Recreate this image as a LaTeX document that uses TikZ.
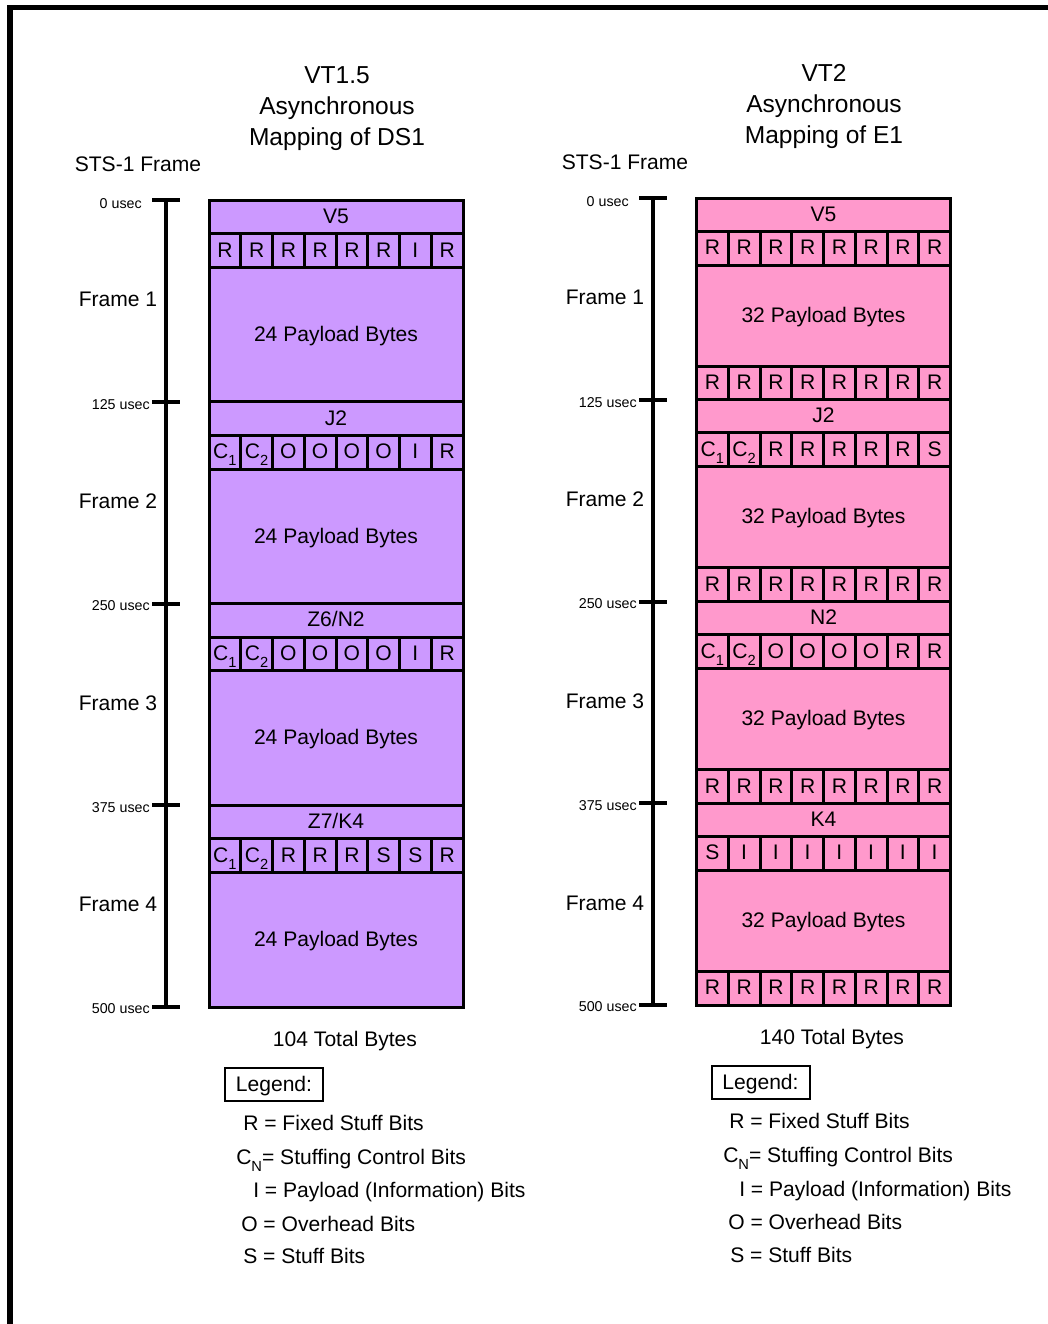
\documentclass[tikz,border=0pt]{standalone}
\usepackage{fontspec}
\setmainfont{Liberation Sans}
\definecolor{vtpurple}{RGB}{204,153,255}
\definecolor{vtpink}{RGB}{255,153,204}
\newcommand{\sbs}[1]{\raisebox{-0.33em}{\fontsize{11}{12}\selectfont #1}}
\tikzset{
  capc/.style={inner sep=0pt, text height=1em, text depth=0pt},
  titletxt/.style={capc, font=\fontsize{18.4}{20}\selectfont},
  normtxt/.style={capc, font=\fontsize{15.8}{18}\selectfont},
  legtxt/.style={capc, font=\fontsize{15.8}{18}\selectfont, anchor=west},
  smalltxt/.style={capc, font=\fontsize{10.7}{12}\selectfont, anchor=east},
  cellline/.style={draw=black, line width=2.25pt},
  hdrcell/.style={normtxt, cellline, minimum width=190.5pt},
  bitcell/.style={normtxt, cellline, minimum width=23.8125pt, minimum height=25.5pt},
  axisline/.style={line width=3pt},
  legbox/.style={draw=black, line width=1.5pt, normtxt, minimum width=73.5pt, minimum height=24.75pt}
}
% #1 name, #2 x0 (left edge), #3 y centre, #4 colour, #5 list
\newcommand{\bitrow}[5]{%
  \foreach \b [count=\i] in {#5} {
    \node[bitcell, fill=#4] (#1-\i) at ({#2+(\i-0.5)*31.75},{#3}) {\b};
  }%
}
\begin{document}
\begin{tikzpicture}[x=0.75pt,y=-0.75pt]
\useasboundingbox (0,0) rectangle (1048,1324);
\fill[white] (0,0) rectangle (1048,1324);
\draw[line width=4.1pt] (10,1330) -- (10,7.5) -- (1055,7.5);

% ---------------- LEFT : VT1.5 ----------------
\node[titletxt] (lt1) at (337,77) {VT1.5};
\node[titletxt] (lt2) at (337,108) {Asynchronous};
\node[titletxt] (lt3) at (337,139) {Mapping of DS1};
\node[normtxt] (lsts) at (138,165) {STS-1 Frame};

% frame 1
\node[hdrcell, fill=vtpurple, minimum height=25.125pt] (lh1) at (336,216.75) {V5};
\bitrow{lb1}{209}{250.5}{vtpurple}{R,R,R,R,R,R,I,R}
\node[hdrcell, fill=vtpurple, minimum height=100.7pt] (lp1) at (336,334.6) {24 Payload Bytes};
% frame 2
\node[hdrcell, fill=vtpurple, minimum height=25.125pt] (lh2) at (336,418.5) {J2};
\bitrow{lb2}{209}{452.25}{vtpurple}{{C\sbs{1}},{C\sbs{2}},O,O,O,O,I,R}
\node[hdrcell, fill=vtpurple, minimum height=100.7pt] (lp2) at (336,536.4) {24 Payload Bytes};
% frame 3
\node[hdrcell, fill=vtpurple, minimum height=25.125pt] (lh3) at (336,620.25) {Z6/N2};
\bitrow{lb3}{209}{654}{vtpurple}{{C\sbs{1}},{C\sbs{2}},O,O,O,O,I,R}
\node[hdrcell, fill=vtpurple, minimum height=100.7pt] (lp3) at (336,738.1) {24 Payload Bytes};
% frame 4
\node[hdrcell, fill=vtpurple, minimum height=25.125pt] (lh4) at (336,822) {Z7/K4};
\bitrow{lb4}{209}{855.75}{vtpurple}{{C\sbs{1}},{C\sbs{2}},R,R,R,S,S,R}
\node[hdrcell, fill=vtpurple, minimum height=100.7pt] (lp4) at (336,939.9) {24 Payload Bytes};

% time axis
\coordinate (la0) at (166,200);
\coordinate (la4) at (166,1007);
\draw[axisline] (la0) -- (la4);
\foreach \k/\t in {0/200,1/401.75,2/603.5,3/805.25,4/1007} {
  \draw[axisline] (152,\t) -- (180,\t);
}
\node[smalltxt] (lu0) at (142,202) {0 usec};
\node[smalltxt] (lu1) at (150,402.5) {125 usec};
\node[smalltxt] (lu2) at (150,604) {250 usec};
\node[smalltxt] (lu3) at (150,805.5) {375 usec};
\node[smalltxt] (lu4) at (150,1007) {500 usec};
\node[normtxt] (lf1) at (118,300) {Frame 1};
\node[normtxt] (lf2) at (118,502) {Frame 2};
\node[normtxt] (lf3) at (118,704) {Frame 3};
\node[normtxt] (lf4) at (118,905) {Frame 4};

\node[normtxt] (ltot) at (345,1040) {104 Total Bytes};
\node[legbox] (lleg) at (274,1084.5) {Legend:};
\node[legtxt] (ll1) at (243,1124) {R = Fixed Stuff Bits};
\node[legtxt] (ll2) at (236,1158) {C\sbs{N}= Stuffing Control Bits};
\node[legtxt] (ll3) at (253,1191) {I = Payload (Information) Bits};
\node[legtxt] (ll4) at (241,1225) {O = Overhead Bits};
\node[legtxt] (ll5) at (243,1257) {S = Stuff Bits};

% ---------------- RIGHT : VT2 ----------------
\node[titletxt] (rt1) at (824,75) {VT2};
\node[titletxt] (rt2) at (824,106) {Asynchronous};
\node[titletxt] (rt3) at (824,137) {Mapping of E1};
\node[normtxt] (rsts) at (625,163) {STS-1 Frame};

% frame 1
\node[hdrcell, fill=vtpink, minimum height=24.75pt] (rh1) at (823.5,214.5) {V5};
\bitrow{rb1}{696.5}{248}{vtpink}{R,R,R,R,R,R,R,R}
\node[hdrcell, fill=vtpink, minimum height=75.75pt] (rp1) at (823.5,315.5) {32 Payload Bytes};
\bitrow{rc1}{696.5}{383}{vtpink}{R,R,R,R,R,R,R,R}
% frame 2
\node[hdrcell, fill=vtpink, minimum height=24.75pt] (rh2) at (823.5,416.25) {J2};
\bitrow{rb2}{696.5}{449.75}{vtpink}{{C\sbs{1}},{C\sbs{2}},R,R,R,R,R,S}
\node[hdrcell, fill=vtpink, minimum height=75.75pt] (rp2) at (823.5,517.25) {32 Payload Bytes};
\bitrow{rc2}{696.5}{584.75}{vtpink}{R,R,R,R,R,R,R,R}
% frame 3
\node[hdrcell, fill=vtpink, minimum height=24.75pt] (rh3) at (823.5,618) {N2};
\bitrow{rb3}{696.5}{651.5}{vtpink}{{C\sbs{1}},{C\sbs{2}},O,O,O,O,R,R}
\node[hdrcell, fill=vtpink, minimum height=75.75pt] (rp3) at (823.5,719) {32 Payload Bytes};
\bitrow{rc3}{696.5}{786.5}{vtpink}{R,R,R,R,R,R,R,R}
% frame 4
\node[hdrcell, fill=vtpink, minimum height=24.75pt] (rh4) at (823.5,819.75) {K4};
\bitrow{rb4}{696.5}{853.25}{vtpink}{S,I,I,I,I,I,I,I}
\node[hdrcell, fill=vtpink, minimum height=75.75pt] (rp4) at (823.5,920.75) {32 Payload Bytes};
\bitrow{rc4}{696.5}{988.25}{vtpink}{R,R,R,R,R,R,R,R}

% time axis
\coordinate (ra0) at (653,198);
\coordinate (ra4) at (653,1005);
\draw[axisline] (ra0) -- (ra4);
\foreach \k/\t in {0/198,1/399.75,2/601.5,3/803.25,4/1005} {
  \draw[axisline] (639,\t) -- (667,\t);
}
\node[smalltxt] (ru0) at (629,200) {0 usec};
\node[smalltxt] (ru1) at (637,400.5) {125 usec};
\node[smalltxt] (ru2) at (637,602) {250 usec};
\node[smalltxt] (ru3) at (637,803.5) {375 usec};
\node[smalltxt] (ru4) at (637,1005) {500 usec};
\node[normtxt] (rf1) at (605,298) {Frame 1};
\node[normtxt] (rf2) at (605,500) {Frame 2};
\node[normtxt] (rf3) at (605,702) {Frame 3};
\node[normtxt] (rf4) at (605,904) {Frame 4};

\node[normtxt] (rtot) at (832,1038) {140 Total Bytes};
\node[legbox] (rleg) at (760.5,1082.5) {Legend:};
\node[legtxt] (rl1) at (729,1122) {R = Fixed Stuff Bits};
\node[legtxt] (rl2) at (723,1156) {C\sbs{N}= Stuffing Control Bits};
\node[legtxt] (rl3) at (739,1190) {I = Payload (Information) Bits};
\node[legtxt] (rl4) at (728,1223) {O = Overhead Bits};
\node[legtxt] (rl5) at (730,1256) {S = Stuff Bits};
\end{tikzpicture}
\end{document}
